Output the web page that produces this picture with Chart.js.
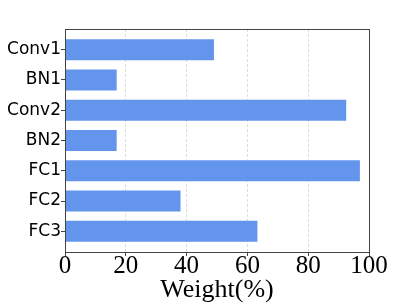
<!DOCTYPE html>
<html>
<head>
<meta charset="utf-8">
<script src="https://cdn.jsdelivr.net/npm/chart.js@4/dist/chart.umd.min.js"></script>
<style>
  html, body { margin: 0; padding: 0; background: #fff; }
  #wrap { width: 411px; height: 308px; }
</style>
</head>
<body>
<div id="wrap"><canvas id="chart" width="411" height="308"></canvas></div>
<script>
const layers = ['Conv1', 'BN1', 'Conv2', 'BN2', 'FC1', 'FC2', 'FC3'];
const weights = [49, 17, 92.5, 17, 97, 38, 63.3];

// draws the box around the plot area
const frame = {
    id: 'frame',
    afterDraw(chart) {
        const a = chart.chartArea;
        const ctx = chart.ctx;
        ctx.save();
        ctx.strokeStyle = '#444';
        ctx.lineWidth = 1;
        ctx.strokeRect(Math.round(a.left) + 0.5, Math.round(a.top) + 0.5,
            Math.round(a.right - a.left), Math.round(a.bottom - a.top));
        ctx.restore();
    }
};

new Chart(document.getElementById('chart'), {
    type: 'bar',
    data: {
        datasets: [{
            data: weights.map((v, i) => ({ x: v, y: i })),
            backgroundColor: '#6495ED',
            borderWidth: 0,
            barPercentage: 0.7,
            categoryPercentage: 1
        }]
    },
    options: {
        indexAxis: 'y',
        responsive: false,
        animation: false,
        layout: { padding: { top: 29, right: 42, left: 0, bottom: 0 } },
        plugins: { legend: { display: false }, tooltip: { enabled: false } },
        scales: {
            x: {
                type: 'linear',
                min: 0,
                max: 100,
                afterFit(s) { s.height = 56; },
                ticks: {
                    stepSize: 20,
                    color: '#000',
                    padding: -2,
                    font: { family: 'Liberation Serif', size: 25, lineHeight: 1 }
                },
                grid: {
                    color: '#dcdcdc',
                    tickColor: '#444',
                    tickLength: 4
                },
                border: { display: false, dash: [3, 2] },
                title: {
                    display: true,
                    text: 'Weight(%)',
                    color: '#000',
                    padding: { top: 0, bottom: 2 },
                    font: { family: 'Liberation Serif', size: 26 }
                }
            },
            y: {
                type: 'linear',
                min: -0.685,
                max: 6.685,
                reverse: true,
                offset: false,
                afterFit(s) { s.width = 65; },
                afterBuildTicks(s) { s.ticks = layers.map((_, i) => ({ value: i })); },
                ticks: {
                    color: '#000',
                    padding: 0,
                    font: { family: 'DejaVu Sans', size: 17 },
                    callback: v => layers[v]
                },
                grid: {
                    offset: false,
                    drawOnChartArea: false,
                    tickColor: '#444',
                    tickLength: 4
                },
                border: { display: false }
            }
        }
    },
    plugins: [frame]
});
</script>
</body>
</html>
